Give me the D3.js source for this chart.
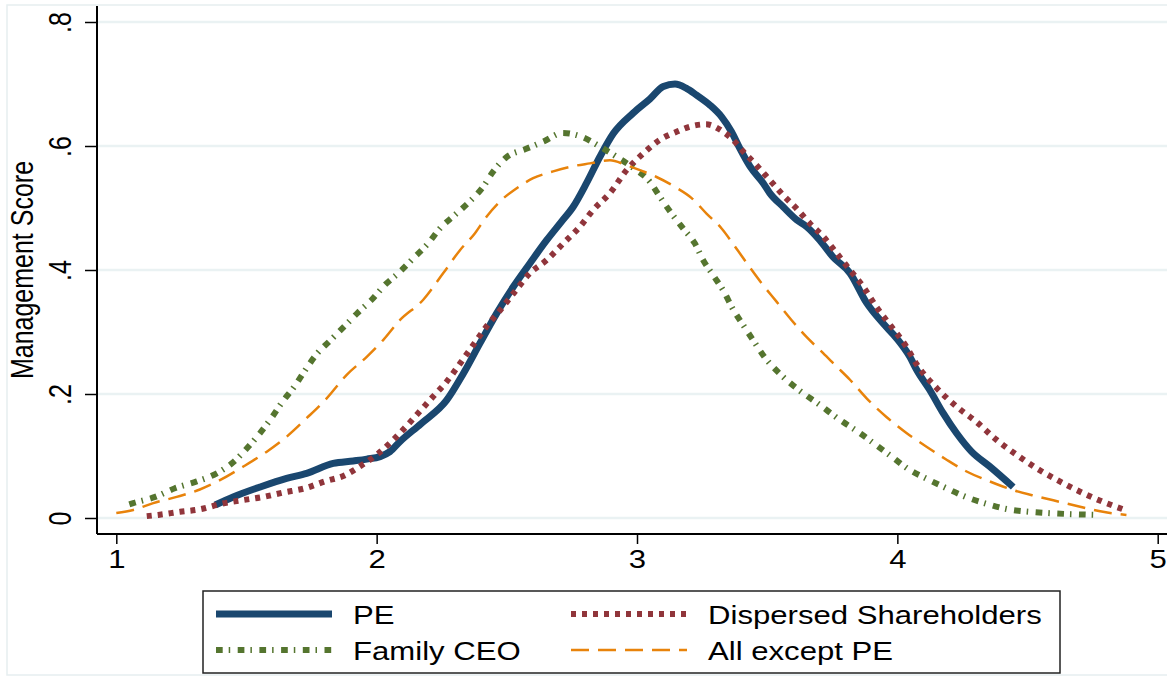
<!DOCTYPE html>
<html>
<head>
<meta charset="utf-8">
<script src="https://cdn.jsdelivr.net/npm/d3@7"></script>
<style>
  body { margin: 0; background: #fff; }
  svg { display: block; }
  text { font-family: "Liberation Sans", Arial, Helvetica, sans-serif; fill: #000; }
</style>
</head>
<body>
<svg id="chart" width="1167" height="679"></svg>
<script>
// density curves: [score, density]
const peCurve = [[1.38,.021],[1.449,.034],[1.552,.050],[1.654,.064],[1.731,.072],[1.833,.088],[1.91,.092],[1.962,.095],[2.013,.099],[2.051,.107],[2.089,.123],[2.17,.152],[2.269,.19],[2.333,.233],[2.397,.282],[2.461,.33],[2.525,.373],[2.589,.411],[2.653,.448],[2.71,.478],[2.755,.502],[2.806,.54],[2.858,.583],[2.909,.62],[2.985,.653],[3.05,.676],[3.101,.696],[3.146,.700],[3.19,.693],[3.229,.682],[3.28,.666],[3.325,.647],[3.363,.623],[3.395,.596],[3.434,.567],[3.485,.54],[3.51,.524],[3.561,.502],[3.613,.481],[3.651,.47],[3.702,.448],[3.753,.421],[3.818,.395],[3.882,.347],[3.945,.314],[3.997,.29],[4.048,.26],[4.074,.239],[4.125,.206],[4.176,.169],[4.227,.137],[4.285,.107],[4.355,.083],[4.445,.05]];

const dispersedCurve = [[1.117,.003],[1.161,.005],[1.245,.01],[1.321,.014],[1.405,.023],[1.488,.029],[1.565,.034],[1.641,.041],[1.725,.048],[1.801,.059],[1.878,.069],[1.942,.085],[2.006,.104],[2.064,.126],[2.14,.16],[2.217,.196],[2.269,.22],[2.32,.249],[2.371,.279],[2.422,.309],[2.474,.335],[2.525,.362],[2.589,.395],[2.653,.416],[2.717,.443],[2.781,.47],[2.832,.497],[2.896,.524],[2.96,.561],[3.024,.588],[3.088,.61],[3.152,.623],[3.21,.632],[3.265,.635],[3.331,.623],[3.369,.61],[3.408,.591],[3.459,.569],[3.51,.545],[3.561,.521],[3.613,.499],[3.664,.475],[3.715,.454],[3.767,.427],[3.818,.4],[3.869,.373],[3.92,.34],[3.971,.312],[4.035,.276],[4.074,.248],[4.15,.21],[4.227,.18],[4.304,.155],[4.381,.126],[4.458,.102],[4.547,.077],[4.624,.059],[4.714,.04],[4.79,.026],[4.867,.014],[4.88,.012]];

const familyCurve = [[1.05,.022],[1.065,.024],[1.149,.034],[1.225,.048],[1.309,.059],[1.386,.072],[1.449,.09],[1.501,.112],[1.552,.137],[1.597,.162],[1.639,.188],[1.684,.212],[1.725,.238],[1.767,.263],[1.821,.286],[1.876,.309],[1.927,.331],[1.981,.352],[2.032,.376],[2.089,.397],[2.141,.419],[2.198,.443],[2.243,.467],[2.301,.489],[2.356,.51],[2.407,.533],[2.448,.559],[2.499,.582],[2.572,.595],[2.64,.607],[2.714,.621],[2.787,.615],[2.858,.599],[2.924,.582],[2.988,.564],[3.05,.542],[3.088,.518],[3.133,.491],[3.177,.467],[3.222,.443],[3.254,.416],[3.295,.39],[3.334,.365],[3.367,.338],[3.408,.311],[3.449,.285],[3.489,.26],[3.55,.232],[3.62,.207],[3.7,.183],[3.78,.158],[3.849,.139],[3.914,.119],[3.978,.099],[4.042,.079],[4.114,.063],[4.189,.048],[4.263,.034],[4.342,.023],[4.426,.014],[4.509,.01],[4.592,.0076],[4.682,.006],[4.765,.005]];

const allExceptCurve = [[1.0,.008],[1.065,.013],[1.142,.024],[1.232,.034],[1.321,.046],[1.398,.061],[1.488,.083],[1.578,.107],[1.654,.131],[1.731,.161],[1.808,.193],[1.885,.231],[1.962,.26],[2.025,.287],[2.089,.319],[2.179,.352],[2.256,.395],[2.32,.432],[2.377,.459],[2.422,.486],[2.48,.513],[2.538,.532],[2.601,.548],[2.678,.559],[2.749,.567],[2.819,.572],[2.896,.577],[2.96,.569],[3.024,.559],[3.075,.55],[3.146,.534],[3.21,.516],[3.267,.491],[3.325,.467],[3.376,.438],[3.427,.408],[3.478,.379],[3.536,.349],[3.594,.319],[3.651,.292],[3.715,.266],[3.765,.245],[3.818,.223],[3.882,.193],[3.958,.163],[4.035,.137],[4.112,.115],[4.189,.094],[4.266,.075],[4.355,.059],[4.445,.045],[4.535,.035],[4.624,.026],[4.714,.017],[4.79,.01],[4.88,.005]];

const xTicks = [1, 2, 3, 4, 5];
const yTicks = [0, .2, .4, .6, .8];
const yTitle = "Management Score";

const series = [
  { name: "PE", data: peCurve, color: "#1a476f", width: 7, dash: null },
  { name: "Dispersed Shareholders", data: dispersedCurve, color: "#90353b", width: 6, dash: "5,6" },
  { name: "Family CEO", data: familyCurve, color: "#55752f", width: 6, dash: "6.7,6,1.5,7.5" },
  { name: "All except PE", data: allExceptCurve, color: "#e8830b", width: 2.5, dash: "18,9" },
];

const SX = 1.245; // text looks stretched sideways in the original
const FS = 25;

const svg = d3.select("#chart");

// graph region border
svg.append("rect")
  .attr("x", 7).attr("y", 5).attr("width", 1170).attr("height", 670)
  .attr("fill", "none").attr("stroke", "#e6eef0").attr("stroke-width", 1.5);

const plotLeft = 97, plotRight = 1167, plotTop = 6, plotBottom = 534;

const x = d3.scaleLinear().domain([1, 5]).range([116.3, 1157.7]);
const y = d3.scaleLinear().domain([0, .8]).range([518, 22]);

// gridlines
svg.append("g")
  .selectAll("line")
  .data(yTicks)
  .join("line")
  .attr("x1", plotLeft).attr("x2", plotRight)
  .attr("y1", d => y(d)).attr("y2", d => y(d))
  .attr("stroke", "#eaf2f3").attr("stroke-width", 2.5);

// y axis
const yAxis = svg.append("g")
  .attr("transform", `translate(${plotLeft},0)`)
  .call(d3.axisLeft(y).tickValues(yTicks).tickSize(12)
    .tickFormat(d => d === 0 ? "0" : d3.format(".1f")(d).replace(/^0/, "")));
yAxis.select(".domain").remove();
yAxis.selectAll(".tick line").attr("stroke", "#000").attr("stroke-width", 1.5);
yAxis.selectAll(".tick text")
  .attr("x", null).attr("dy", null)
  .attr("transform", `translate(-26,0) scale(${SX},1) rotate(-90)`)
  .attr("text-anchor", "middle")
  .attr("font-size", FS)
  .attr("font-family", null)
  .attr("fill", "#000");

// x axis
const xAxis = svg.append("g")
  .attr("transform", `translate(0,${plotBottom})`)
  .call(d3.axisBottom(x).tickValues(xTicks).tickSize(10).tickFormat(d3.format("d")));
xAxis.select(".domain").remove();
xAxis.selectAll(".tick line").attr("stroke", "#000").attr("stroke-width", 1.5);
xAxis.selectAll(".tick text")
  .attr("y", 34).attr("dy", null)
  .attr("transform", `scale(${SX},1)`)
  .attr("font-size", FS)
  .attr("font-family", null)
  .attr("fill", "#000");

// axis lines
svg.append("line")
  .attr("x1", plotLeft).attr("x2", plotLeft).attr("y1", plotTop).attr("y2", plotBottom)
  .attr("stroke", "#000").attr("stroke-width", 2);
svg.append("line")
  .attr("x1", plotLeft).attr("x2", plotRight).attr("y1", plotBottom).attr("y2", plotBottom)
  .attr("stroke", "#000").attr("stroke-width", 2);

// y title
svg.append("text")
  .attr("transform", `translate(33,270) scale(${SX},1) rotate(-90)`)
  .attr("text-anchor", "middle")
  .attr("font-size", FS)
  .text(yTitle);

// curves
const line = d3.line()
  .x(d => x(d[0]))
  .y(d => y(d[1]))
  .curve(d3.curveMonotoneX);

series.forEach(s => {
  svg.append("path")
    .datum(s.data)
    .attr("d", line)
    .attr("fill", "none")
    .attr("stroke", s.color)
    .attr("stroke-width", s.width)
    .attr("stroke-dasharray", s.dash)
    .attr("stroke-linejoin", "round");
});

// legend
const legend = svg.append("g");
legend.append("rect")
  .attr("x", 203).attr("y", 591).attr("width", 857).attr("height", 82)
  .attr("fill", "#fff").attr("stroke", "#222").attr("stroke-width", 1.5);

const legendPos = [
  { lx: 216, tx: 353, cy: 614 },
  { lx: 571, tx: 708, cy: 614 },
  { lx: 216, tx: 353, cy: 650 },
  { lx: 571, tx: 708, cy: 650 },
];

series.forEach((s, i) => {
  const p = legendPos[i];
  legend.append("line")
    .attr("x1", p.lx).attr("x2", p.lx + 116)
    .attr("y1", p.cy).attr("y2", p.cy)
    .attr("stroke", s.color)
    .attr("stroke-width", s.width)
    .attr("stroke-dasharray", s.dash);
  legend.append("text")
    .attr("transform", `translate(${p.tx},${p.cy + 9.5}) scale(${SX},1)`)
    .attr("font-size", FS)
    .text(s.name);
});
</script>
</body>
</html>
